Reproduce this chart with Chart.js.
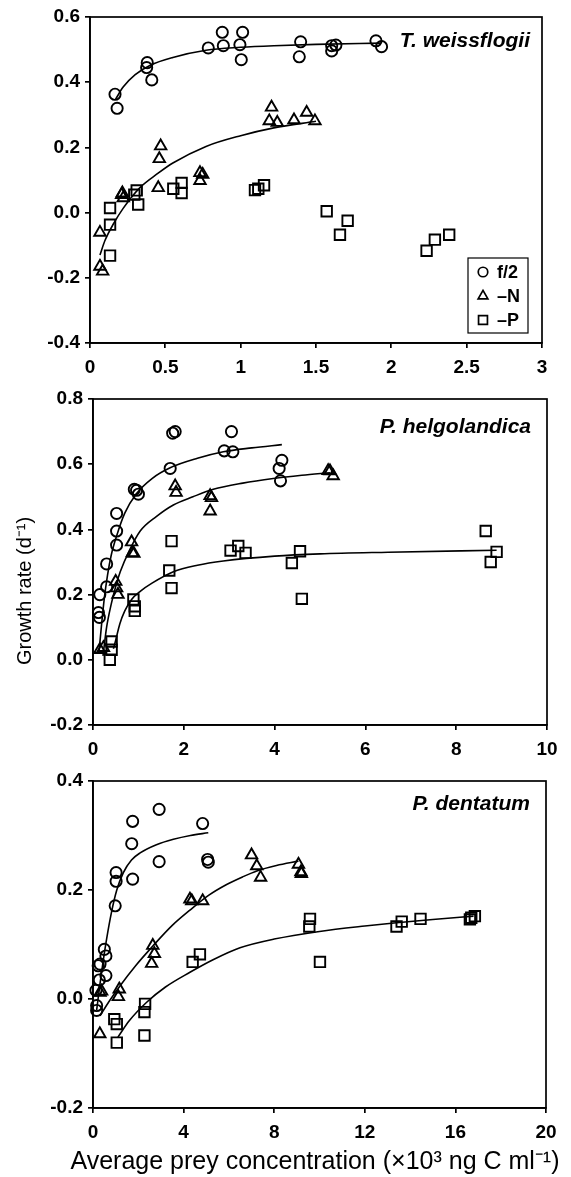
<!DOCTYPE html>
<html>
<head>
<meta charset="utf-8">
<script src="https://cdn.jsdelivr.net/npm/chart.js@4.4.1/dist/chart.umd.min.js"></script>
<style>
  body { margin: 0; background: #fff; width: 571px; height: 1177px; position: relative; overflow: hidden; }
  canvas { position: absolute; left: 0; }
</style>
</head>
<body>
<canvas id="panel1" width="571" height="380" style="top:0px"></canvas>
<canvas id="panel2" width="571" height="380" style="top:380px"></canvas>
<canvas id="panel3" width="571" height="417" style="top:760px"></canvas>
<script>
// species names shown in each panel
const speciesNames = ['T. weissflogii', 'P. helgolandica', 'P. dentatum'];
const legendLabels = ['f/2', '\u2013N', '\u2013P'];
const yAxisTitle = 'Growth rate (d\u207B\u00B9)';
const xAxisTitle = 'Average prey concentration (\u00D710\u00B3 ng C ml\u207B\u00B9)';

// tick values and labels
const xTicks1 = [0, 0.5, 1, 1.5, 2, 2.5, 3];
const xLabels1 = ['0', '0.5', '1', '1.5', '2', '2.5', '3'];
const yTicks1 = [-0.4, -0.2, 0, 0.2, 0.4, 0.6];
const yLabels1 = ['-0.4', '-0.2', '0.0', '0.2', '0.4', '0.6'];
const xTicks2 = [0, 2, 4, 6, 8, 10];
const xLabels2 = ['0', '2', '4', '6', '8', '10'];
const yTicks2 = [-0.2, 0, 0.2, 0.4, 0.6, 0.8];
const yLabels2 = ['-0.2', '0.0', '0.2', '0.4', '0.6', '0.8'];
const xTicks3 = [0, 4, 8, 12, 16, 20];
const xLabels3 = ['0', '4', '8', '12', '16', '20'];
const yTicks3 = [-0.2, 0, 0.2, 0.4];
const yLabels3 = ['-0.2', '0.0', '0.2', '0.4'];

// T. weissflogii
const twF2X = [0.166, 0.18, 0.38, 0.376, 0.41, 0.785, 0.878, 0.885, 1.013, 0.995, 1.004, 1.398, 1.389, 1.604, 1.604, 1.632, 1.898, 1.935];
const twF2Y = [0.363, 0.32, 0.46, 0.445, 0.407, 0.505, 0.553, 0.512, 0.553, 0.515, 0.469, 0.524, 0.478, 0.512, 0.496, 0.514, 0.527, 0.509];
const twNX = [0.066, 0.066, 0.084, 0.21, 0.215, 0.221, 0.453, 0.46, 0.469, 0.73, 0.748, 0.73, 1.19, 1.205, 1.243, 1.354, 1.438, 1.493];
const twNY = [-0.061, -0.165, -0.18, 0.055, 0.06, 0.045, 0.076, 0.165, 0.204, 0.122, 0.117, 0.098, 0.281, 0.323, 0.276, 0.284, 0.307, 0.281];
const twPX = [0.133, 0.133, 0.133, 0.294, 0.31, 0.32, 0.553, 0.608, 0.608, 1.095, 1.117, 1.155, 1.571, 1.659, 1.71, 2.234, 2.289, 2.384];
const twPY = [0.014, -0.037, -0.132, 0.055, 0.068, 0.025, 0.073, 0.091, 0.06, 0.069, 0.073, 0.084, 0.004, -0.068, -0.025, -0.117, -0.083, -0.068];
const twF2FitX = [0.17, 0.22, 0.3, 0.4, 0.55, 0.77, 1.0, 1.22, 1.5, 1.93];
const twF2FitY = [0.348, 0.385, 0.423, 0.452, 0.476, 0.498, 0.507, 0.512, 0.516, 0.52];
const twNFitX = [0.066, 0.1, 0.155, 0.22, 0.33, 0.45, 0.55, 0.77, 1.0, 1.22, 1.5];
const twNFitY = [-0.13, -0.085, -0.035, 0.013, 0.076, 0.12, 0.152, 0.203, 0.236, 0.26, 0.28];

// P. helgolandica
const phF2X = [0.12, 0.14, 0.15, 0.3, 0.3, 0.52, 0.52, 0.52, 0.91, 0.96, 1.0, 1.7, 1.755, 1.81, 2.89, 3.05, 3.08, 4.1, 4.13, 4.16];
const phF2Y = [0.145, 0.13, 0.2, 0.224, 0.294, 0.352, 0.395, 0.449, 0.523, 0.52, 0.508, 0.587, 0.695, 0.7, 0.641, 0.7, 0.638, 0.587, 0.549, 0.612];
const phNX = [0.15, 0.23, 0.5, 0.52, 0.55, 0.85, 0.87, 0.9, 1.81, 1.83, 2.58, 2.61, 2.58, 5.18, 5.22, 5.29];
const phNY = [0.031, 0.037, 0.24, 0.22, 0.2, 0.361, 0.328, 0.326, 0.533, 0.513, 0.503, 0.497, 0.456, 0.58, 0.579, 0.564];
const phPX = [0.37, 0.41, 0.41, 0.89, 0.92, 0.92, 1.68, 1.73, 1.73, 3.03, 3.2, 3.36, 4.38, 4.56, 4.6, 8.65, 8.76, 8.89];
const phPY = [0.0, 0.031, 0.056, 0.185, 0.164, 0.15, 0.274, 0.364, 0.22, 0.335, 0.349, 0.328, 0.297, 0.333, 0.187, 0.395, 0.3, 0.331];
const phF2FitX = [0.13, 0.19, 0.25, 0.32, 0.4, 0.52, 0.7, 0.96, 1.3, 1.7, 2.3, 2.87, 3.5, 4.16];
const phF2FitY = [0.02, 0.11, 0.19, 0.26, 0.32, 0.38, 0.45, 0.51, 0.556, 0.589, 0.618, 0.638, 0.65, 0.66];
const phNFitX = [0.22, 0.3, 0.4, 0.5, 0.6, 0.8, 1.04, 1.4, 1.77, 2.2, 2.65, 3.3, 3.97, 4.6, 5.22];
const phNFitY = [0.012, 0.1, 0.17, 0.225, 0.27, 0.335, 0.395, 0.44, 0.475, 0.5, 0.523, 0.542, 0.556, 0.566, 0.574];
const phPFitX = [0.45, 0.5, 0.59, 0.7, 0.85, 1.04, 1.3, 1.77, 2.3, 2.87, 4, 5, 6.5, 8.89];
const phPFitY = [0.034, 0.06, 0.11, 0.15, 0.185, 0.21, 0.235, 0.27, 0.29, 0.303, 0.318, 0.325, 0.33, 0.336];

// P. dentatum
const pdF2X = [0.13, 0.16, 0.16, 0.23, 0.28, 0.31, 0.5, 0.57, 0.57, 0.98, 1.02, 1.02, 1.71, 1.75, 1.75, 2.92, 2.92, 4.84, 5.06, 5.09];
const pdF2Y = [0.016, -0.012, -0.021, 0.061, 0.035, 0.064, 0.091, 0.079, 0.043, 0.171, 0.232, 0.216, 0.285, 0.326, 0.22, 0.348, 0.252, 0.322, 0.256, 0.251];
const pdNX = [0.3, 0.31, 0.38, 1.12, 1.16, 2.59, 2.64, 2.71, 4.28, 4.36, 4.84, 7.0, 7.23, 7.4, 9.07, 9.18, 9.2];
const pdNY = [-0.064, 0.012, 0.014, 0.004, 0.018, 0.065, 0.098, 0.083, 0.183, 0.18, 0.18, 0.264, 0.244, 0.223, 0.247, 0.233, 0.23];
const pdPX = [0.94, 1.05, 1.05, 2.27, 2.27, 2.3, 4.4, 4.72, 9.55, 9.58, 10.02, 13.4, 13.63, 14.46, 16.64, 16.7, 16.86];
const pdPY = [-0.037, -0.046, -0.08, -0.067, -0.024, -0.009, 0.068, 0.082, 0.133, 0.147, 0.068, 0.133, 0.142, 0.147, 0.146, 0.149, 0.152];
const pdF2FitX = [0.16, 0.3, 0.45, 0.6, 0.82, 1.05, 1.34, 1.7, 2.08, 2.8, 3.55, 4.3, 5.09];
const pdF2FitY = [-0.021, 0.025, 0.07, 0.11, 0.16, 0.2, 0.232, 0.255, 0.268, 0.283, 0.293, 0.3, 0.305];
const pdNFitX = [0.31, 0.7, 1.19, 1.9, 2.66, 3.5, 4.28, 5.1, 5.9, 6.6, 7.23, 8.1, 9.07];
const pdNFitY = [-0.031, -0.005, 0.024, 0.062, 0.098, 0.135, 0.163, 0.19, 0.21, 0.224, 0.235, 0.245, 0.253];
const pdPFitX = [1.1, 1.6, 2.37, 3.2, 4.28, 5.3, 6.49, 8, 10, 12, 13.4, 15, 16.8];
const pdPFitY = [-0.07, -0.04, -0.006, 0.022, 0.049, 0.072, 0.094, 0.11, 0.124, 0.134, 0.14, 0.146, 0.152];

const FONT = '"Liberation Sans", Arial, Helvetica, sans-serif';
const markers = { f2: ['circle', 5.6], n: ['triangle', 6.6], p: ['rect', 7.4] };

function pts(xs, ys) {
  return xs.map((x, i) => ({ x: x, y: ys[i] }));
}

function scatterSet(xs, ys, kind) {
  return {
    data: pts(xs, ys),
    showLine: false,
    pointStyle: markers[kind][0],
    pointRadius: markers[kind][1],
    pointBorderColor: '#000',
    pointBackgroundColor: 'rgba(0,0,0,0)',
    pointBorderWidth: 1.9,
    clip: false
  };
}

function curveSet(xs, ys) {
  return {
    data: pts(xs, ys),
    showLine: true,
    pointRadius: 0,
    borderColor: '#000',
    borderWidth: 1.6,
    cubicInterpolationMode: 'monotone',
    fill: false,
    clip: false
  };
}

// box round the plot, species name, axis titles and (panel 1) the legend
const framePlugin = {
  id: 'frame',
  afterDraw(chart, args, opts) {
    const ctx = chart.ctx;
    const a = chart.chartArea;
    ctx.save();
    ctx.strokeStyle = '#000';
    ctx.lineWidth = 1.7;
    ctx.strokeRect(a.left, a.top, a.right - a.left, a.bottom - a.top);

    ctx.fillStyle = '#000';
    ctx.font = 'italic bold 21px ' + FONT;
    ctx.textAlign = 'right';
    ctx.textBaseline = 'middle';
    ctx.fillText(opts.name, opts.nameX, opts.nameY);

    if (opts.yTitle) {
      ctx.save();
      ctx.translate(opts.yTitle.x, opts.yTitle.y);
      ctx.rotate(-Math.PI / 2);
      ctx.textAlign = 'center';
      ctx.font = '20px ' + FONT;
      ctx.fillText(yAxisTitle, 0, 0);
      ctx.restore();
    }

    if (opts.xTitle) {
      ctx.textAlign = 'center';
      ctx.font = '25px ' + FONT;
      ctx.fillText(xAxisTitle, opts.xTitle.x, opts.xTitle.y);
    }

    if (opts.legend) {
      const lg = opts.legend;
      ctx.lineWidth = 1.2;
      ctx.strokeRect(lg.x, lg.y, lg.w, lg.h);
      const kinds = ['f2', 'n', 'p'];
      ctx.textAlign = 'left';
      ctx.font = 'bold 18px ' + FONT;
      kinds.forEach((k, i) => {
        const cy = lg.rows[i];
        ctx.fillStyle = 'rgba(0,0,0,0)';
        ctx.strokeStyle = '#000';
        ctx.lineWidth = 1.7;
        Chart.helpers.drawPoint(ctx, { pointStyle: markers[k][0], radius: markers[k][1] * 0.85, borderWidth: 1.7, rotation: 0 }, lg.symX, cy);
        ctx.fillStyle = '#000';
        ctx.fillText(legendLabels[i], lg.textX, cy + 1);
      });
    }
    ctx.restore();
  }
};

function makePanel(id, p) {
  const tickFont = { family: FONT, size: 19, weight: 'bold' };
  new Chart(document.getElementById(id), {
    type: 'scatter',
    data: { datasets: p.datasets },
    plugins: [framePlugin],
    options: {
      responsive: false,
      animation: false,
      events: [],
      layout: { autoPadding: false, padding: p.padding },
      plugins: {
        legend: { display: false },
        tooltip: { enabled: false },
        frame: p.frame
      },
      scales: {
        x: {
          type: 'linear',
          min: p.xTicks[0],
          max: p.xTicks[p.xTicks.length - 1],
          afterBuildTicks: s => { s.ticks = p.xTicks.map(v => ({ value: v })); },
          afterFit: s => { s.height = p.xH; },
          ticks: { callback: (v, i) => p.xLabels[i], font: tickFont, color: '#000', padding: 8, maxRotation: 0, autoSkip: false },
          grid: { drawOnChartArea: false, drawTicks: true, tickLength: 5, color: '#000', lineWidth: 1.7 },
          border: { color: '#000', width: 1.7 }
        },
        y: {
          type: 'linear',
          min: p.yTicks[0],
          max: p.yTicks[p.yTicks.length - 1],
          afterBuildTicks: s => { s.ticks = p.yTicks.map(v => ({ value: v })); },
          afterFit: s => { s.width = p.yW; },
          ticks: { callback: (v, i) => p.yLabels[i], font: tickFont, color: '#000', padding: 5, autoSkip: false },
          grid: { drawOnChartArea: false, drawTicks: true, tickLength: 5, color: '#000', lineWidth: 1.7 },
          border: { color: '#000', width: 1.7 }
        }
      }
    }
  });
}

document.addEventListener('DOMContentLoaded', function() {
  // T. weissflogii
  makePanel('panel1', {
    datasets: [
      curveSet(twF2FitX, twF2FitY), curveSet(twNFitX, twNFitY),
      scatterSet(twF2X, twF2Y, 'f2'), scatterSet(twNX, twNY, 'n'), scatterSet(twPX, twPY, 'p')
    ],
    padding: { left: 30, right: 29, top: 17, bottom: 7 },
    yW: 60, xH: 30,
    xTicks: xTicks1, xLabels: xLabels1, yTicks: yTicks1, yLabels: yLabels1,
    frame: {
      name: speciesNames[0], nameX: 530, nameY: 41,
      legend: { x: 468, y: 258, w: 60, h: 75, symX: 483, textX: 497, rows: [272, 296, 320] }
    }
  });

  // P. helgolandica
  makePanel('panel2', {
    datasets: [
      curveSet(phF2FitX, phF2FitY), curveSet(phNFitX, phNFitY), curveSet(phPFitX, phPFitY),
      scatterSet(phF2X, phF2Y, 'f2'), scatterSet(phNX, phNY, 'n'), scatterSet(phPX, phPY, 'p')
    ],
    padding: { left: 33, right: 24, top: 19, bottom: 5 },
    yW: 60, xH: 30,
    xTicks: xTicks2, xLabels: xLabels2, yTicks: yTicks2, yLabels: yLabels2,
    frame: { name: speciesNames[1], nameX: 531, nameY: 47, yTitle: { x: 25, y: 211 } }
  });

  // P. dentatum
  makePanel('panel3', {
    datasets: [
      curveSet(pdF2FitX, pdF2FitY), curveSet(pdNFitX, pdNFitY), curveSet(pdPFitX, pdPFitY),
      scatterSet(pdF2X, pdF2Y, 'f2'), scatterSet(pdNX, pdNY, 'n'), scatterSet(pdPX, pdPY, 'p')
    ],
    padding: { left: 33, right: 25, top: 21, bottom: 1 },
    yW: 60, xH: 68,
    xTicks: xTicks3, xLabels: xLabels3, yTicks: yTicks3, yLabels: yLabels3,
    frame: { name: speciesNames[2], nameX: 530, nameY: 44, xTitle: { x: 315, y: 402 } }
  });
});
</script>
</body>
</html>
